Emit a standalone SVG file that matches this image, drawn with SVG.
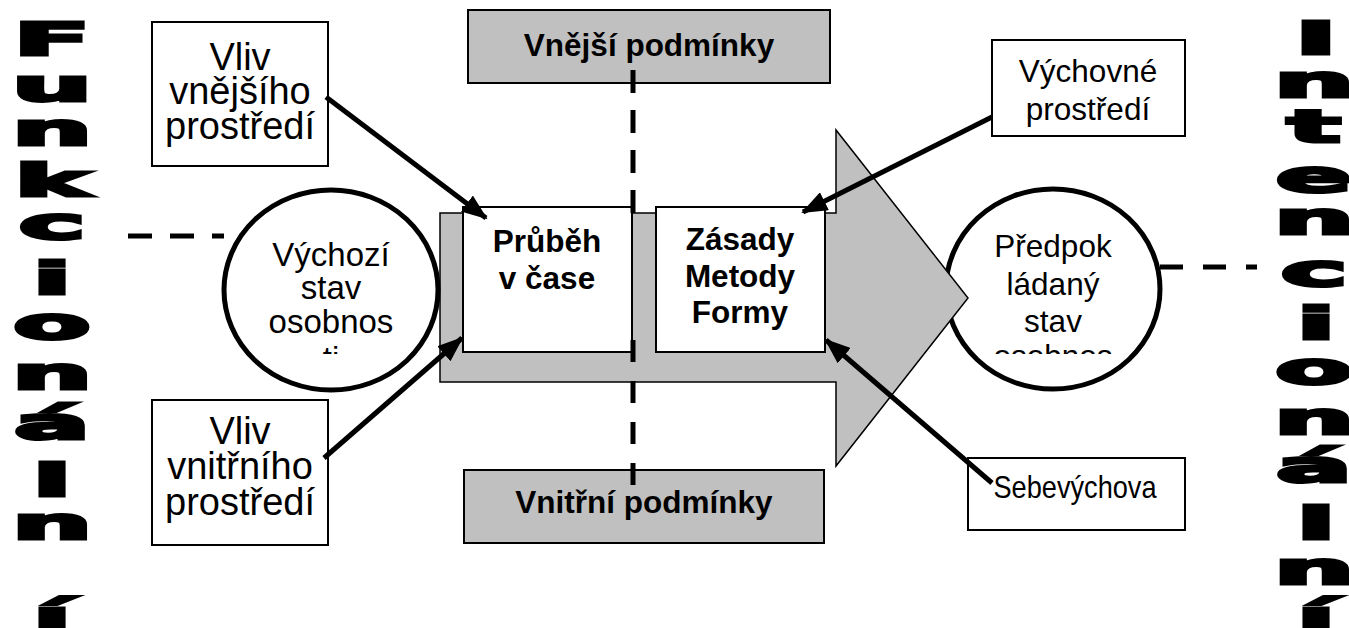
<svg xmlns="http://www.w3.org/2000/svg" width="1349" height="628" viewBox="0 0 1349 628">
<style>
.t{font-family:"Liberation Sans",Arial,sans-serif;font-size:31.5px;fill:#000;text-anchor:middle}
.c{font-size:33px}
.l{font-size:38px}
.b{font-weight:bold}
.box{fill:#fff;stroke:#000;stroke-width:2}
.gbox{fill:#c0c0c0;stroke:#000;stroke-width:2}
.big{font-family:"DejaVu Sans",sans-serif;font-weight:bold;font-size:45px;text-anchor:middle;fill:#000;stroke:#000;stroke-width:3;stroke-linejoin:miter}
.dash{stroke:#000;stroke-width:5;fill:none}
.arr{stroke:#000;stroke-width:5;fill:none;marker-end:url(#ah)}
</style>
<defs>
<marker id="ah" markerUnits="userSpaceOnUse" markerWidth="26" markerHeight="20" refX="24" refY="10" orient="auto">
<path d="M0,0 L26,10 L0,20 Z" fill="#000"/>
</marker>
<clipPath id="c1"><rect x="230" y="200" width="200" height="154"/></clipPath>
<clipPath id="c2b"><rect x="950" y="200" width="200" height="154"/></clipPath>
</defs>
<rect width="1349" height="628" fill="#fff"/>

<g id="connectors">
<line class="dash" x1="128" y1="236" x2="224" y2="236" stroke-dasharray="24 18"/>
<line class="dash" x1="1160" y1="267" x2="1257" y2="267" stroke-dasharray="23 20"/>
</g>

<g id="predpokladany">
<ellipse cx="1053" cy="289" rx="107" ry="100" fill="#fff" stroke="#000" stroke-width="5"/>
<g clip-path="url(#c2b)">
<text class="t" x="1053" y="257">Předpok</text>
<text class="t" x="1053" y="295">ládaný</text>
<text class="t" x="1053" y="332">stav</text>
<text class="t" x="1053" y="367">osobnos</text>
</g>
</g>

<g id="arrow-body">
<polygon points="440,213 836,213 836,130 968,298 836,466 836,382 440,382" fill="#c0c0c0" stroke="#000" stroke-width="1.5"/>
</g>

<g id="vychozi">
<ellipse cx="331" cy="290" rx="107" ry="100" fill="#fff" stroke="#000" stroke-width="5"/>
<g clip-path="url(#c1)">
<text class="t c" x="331" y="266">Výchozí</text>
<text class="t c" x="331" y="299">stav</text>
<text class="t c" x="331" y="333">osobnos</text>
<text class="t c" x="331" y="370">ti</text>
</g>
</g>

<g id="vnejsi">
<rect class="gbox" x="468" y="10" width="362" height="73"/>
<text class="t b" x="649" y="56">Vnější podmínky</text>
</g>

<g id="vnitrni">
<rect class="gbox" x="464" y="470" width="360" height="73"/>
<text class="t b" x="644" y="513">Vnitřní podmínky</text>
</g>

<g id="prubeh">
<rect class="box" x="463" y="207" width="169" height="145"/>
<text class="t b" x="547" y="252">Průběh</text>
<text class="t b" x="547" y="289">v čase</text>
</g>

<g id="zasady">
<rect class="box" x="656" y="207" width="169" height="145"/>
<text class="t b" x="740" y="250">Zásady</text>
<text class="t b" x="740" y="287">Metody</text>
<text class="t b" x="740" y="323">Formy</text>
</g>

<g id="vliv-vnejsiho">
<rect class="box" x="152" y="22" width="176" height="144"/>
<text class="t l" x="240" y="70">Vliv</text>
<text class="t l" x="240" y="104">vnějšího</text>
<text class="t l" x="240" y="139">prostředí</text>
</g>

<g id="vliv-vnitrniho">
<rect class="box" x="152" y="400" width="176" height="145"/>
<text class="t l" x="240" y="444">Vliv</text>
<text class="t l" x="240" y="479">vnitřního</text>
<text class="t l" x="240" y="515">prostředí</text>
</g>

<g id="vychovne">
<rect class="box" x="992" y="40" width="193" height="96"/>
<text class="t" x="1088" y="82">Výchovné</text>
<text class="t" x="1088" y="120">prostředí</text>
</g>

<g id="sebevychova">
<rect class="box" x="968" y="458" width="217" height="72"/>
<text class="t" x="1075" y="498" font-size="30" textLength="163" lengthAdjust="spacingAndGlyphs">Sebevýchova</text>
</g>

<g id="connectors2">
<line class="dash" x1="633" y1="70" x2="633" y2="213" stroke-dasharray="23 17"/>
<line class="dash" x1="633" y1="340" x2="633" y2="487" stroke-dasharray="22 19"/>
<line class="arr" x1="326" y1="97" x2="486" y2="218"/>
<line class="arr" x1="324" y1="458" x2="462" y2="338"/>
<line class="arr" x1="992" y1="117" x2="803" y2="212"/>
<line class="arr" x1="992" y1="483" x2="826" y2="340"/>
</g>

<g id="funkcionalni">
<text class="big" transform="translate(52,55) scale(2.5,1)">F</text>
<text class="big" transform="translate(52,101) scale(2.5,1)">u</text>
<text class="big" transform="translate(52,145) scale(2.5,1)">n</text>
<text class="big" transform="translate(52,196) scale(2.5,1)">k</text>
<text class="big" transform="translate(52,239) scale(2.5,1)">c</text>
<text class="big" transform="translate(52,294) scale(2.5,1)">i</text>
<text class="big" transform="translate(52,339) scale(2.5,1)">o</text>
<text class="big" transform="translate(52,389) scale(2.5,1)">n</text>
<text class="big" transform="translate(52,439) scale(2.5,1)">á</text>
<text class="big" transform="translate(52,496) scale(2.5,1)">l</text>
<text class="big" transform="translate(52,539) scale(2.5,1)">n</text>
<text class="big" transform="translate(52,632) scale(2.5,1)">í</text>
</g>

<g id="intencionalni">
<text class="big" transform="translate(1316,54) scale(2.5,1)">I</text>
<text class="big" transform="translate(1314,97) scale(2.5,1)">n</text>
<text class="big" transform="translate(1314,142) scale(2.5,1)">t</text>
<text class="big" transform="translate(1314,192) scale(2.5,1)">e</text>
<text class="big" transform="translate(1314,234) scale(2.5,1)">n</text>
<text class="big" transform="translate(1314,286) scale(2.5,1)">c</text>
<text class="big" transform="translate(1316,339) scale(2.5,1)">i</text>
<text class="big" transform="translate(1314,384) scale(2.5,1)">o</text>
<text class="big" transform="translate(1314,434) scale(2.5,1)">n</text>
<text class="big" transform="translate(1314,482) scale(2.5,1)">á</text>
<text class="big" transform="translate(1316,539) scale(2.5,1)">l</text>
<text class="big" transform="translate(1314,584) scale(2.5,1)">n</text>
<text class="big" transform="translate(1316,632) scale(2.5,1)">í</text>
</g>
</svg>
